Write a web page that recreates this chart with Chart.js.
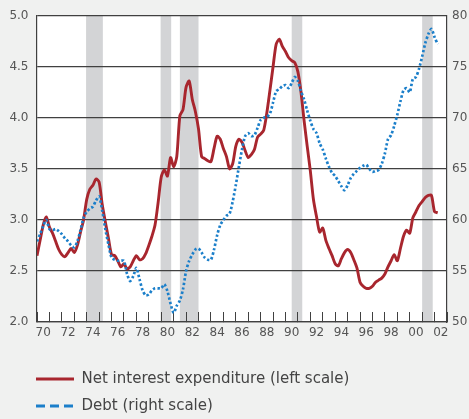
<!DOCTYPE html>
<html>
<head>
<meta charset="utf-8">
<script src="https://cdn.jsdelivr.net/npm/chart.js@4.4.1/dist/chart.umd.min.js"></script>
<style>
  html, body { margin: 0; padding: 0; background: #f0f1f0; }
  #wrap { width: 469px; height: 419px; }
</style>
</head>
<body>
<div id="wrap"><canvas id="myChart" width="469" height="419"></canvas></div>
<script>
// quarterly data, first point is 1970 Q1
const firstYear = 1970;

// net interest expenditure, % (left scale)
const interest = [
  2.65, 2.80, 2.95, 3.03, 2.93, 2.87, 2.79, 2.71, 2.66, 2.64, 2.68, 2.72, // 70-72
  2.68, 2.75, 2.88, 3.00, 3.20, 3.30, 3.34, 3.40, 3.37, 3.15, 2.98, 2.82, // 73-75
  2.66, 2.65, 2.60, 2.54, 2.57, 2.52, 2.54, 2.60, 2.65, 2.61, 2.62, 2.67, // 76-78
  2.75, 2.84, 2.95, 3.17, 3.42, 3.49, 3.43, 3.61, 3.52, 3.62, 4.02, 4.08, // 79-81
  4.30, 4.36, 4.18, 4.06, 3.89, 3.62, 3.60, 3.58, 3.57, 3.70, 3.82, 3.79, // 82-84
  3.70, 3.62, 3.50, 3.55, 3.72, 3.79, 3.76, 3.68, 3.61, 3.64, 3.69, 3.81, // 85-87
  3.84, 3.88, 4.05, 4.27, 4.50, 4.72, 4.77, 4.70, 4.65, 4.59, 4.56, 4.54, // 88-90
  4.45, 4.25, 3.97, 3.72, 3.48, 3.20, 3.03, 2.88, 2.92, 2.80, 2.72, 2.65, // 91-93
  2.57, 2.55, 2.62, 2.68, 2.71, 2.68, 2.61, 2.53, 2.39, 2.35, 2.33, 2.33, // 94-96
  2.35, 2.39, 2.41, 2.43, 2.47, 2.54, 2.60, 2.66, 2.60, 2.72, 2.84, 2.90, // 97-99
  2.87, 3.02, 3.08, 3.14, 3.18, 3.22, 3.24, 3.24, 3.08, 3.07              // 00-02
];

// debt, % (right scale)
const debt = [
  57.9, 58.6, 59.4, 60.0, 59.1, 59.0, 59.1, 58.9, 58.6, 58.2, 57.9, 57.5,
  57.3, 57.9, 59.0, 60.2, 60.8, 61.1, 61.3, 61.9, 62.3, 60.9, 59.1, 57.6,
  56.3, 56.1, 56.0, 56.0, 56.0, 54.7, 54.0, 54.5, 55.3, 54.2, 53.1, 52.6,
  52.7, 53.1, 53.3, 53.3, 53.3, 53.7, 53.0, 51.8, 50.9, 51.6, 52.1, 53.2,
  55.0, 56.0, 56.6, 57.1, 57.2, 56.8, 56.3, 56.1, 56.1, 57.1, 58.5, 59.5,
  60.0, 60.4, 60.6, 61.8, 63.4, 65.2, 66.9, 68.2, 68.5, 68.2, 68.3, 69.0,
  69.8, 70.0, 70.1, 70.4, 71.5, 72.6, 72.8, 73.1, 73.2, 72.9, 73.4, 74.0,
  73.6, 72.6, 71.8, 70.7, 69.7, 68.9, 68.5, 67.5, 66.9, 66.0, 65.2, 64.6,
  64.3, 63.8, 63.3, 62.9, 63.4, 64.1, 64.5, 64.8, 65.1, 65.3, 65.4, 65.0,
  64.7, 64.8, 64.9, 65.5, 66.5, 67.9, 68.3, 69.2, 70.3, 71.6, 72.7, 72.9,
  72.5, 73.8, 74.0, 74.8, 76.0, 77.3, 78.2, 78.7, 77.9, 77.2
];

// shaded recession periods (start, end) in years
const recessions = [
  [1973.95, 1975.3],
  [1979.95, 1980.8],
  [1981.5, 1983.0],
  [1990.5, 1991.35],
  [2001.0, 2001.85]
];

const quarterX = interest.map((v, i) => firstYear + i / 4);

const fontFamily = '"DejaVu Sans", sans-serif';
const textColor = '#555555';
const lineColor = '#404040';

const backdrop = {
  id: 'backdrop',
  afterLayout(chart) {
    // legend sits under the plot, lined up with the left axis
    if (chart.legend) chart.legend.left = chart.chartArea.left - 1 - chart.legend.options.labels.padding;
  },
  beforeDraw(chart) {
    const { ctx, chartArea: a, scales: { x } } = chart;
    ctx.save();
    ctx.fillStyle = '#f0f1f0';
    ctx.fillRect(0, 0, chart.width, chart.height);
    ctx.fillStyle = '#ffffff';
    ctx.fillRect(a.left, a.top, a.right - a.left, a.bottom - a.top);
    ctx.fillStyle = '#d3d4d6';
    recessions.forEach(([from, to]) => {
      const x1 = x.getPixelForValue(from);
      const x2 = x.getPixelForValue(to);
      ctx.fillRect(x1, a.top, x2 - x1, a.bottom - a.top);
    });
    ctx.restore();
  }
};

Chart.defaults.font.family = fontFamily;

const ctx = document.getElementById('myChart').getContext('2d');
new Chart(ctx, {
  type: 'line',
  data: {
    datasets: [
      {
        label: 'Net interest expenditure (left scale)',
        data: quarterX.map((q, i) => ({ x: q, y: interest[i] })),
        yAxisID: 'y',
        borderColor: '#a8262e',
        backgroundColor: '#a8262e',
        borderWidth: 2.9,
        pointRadius: 0,
        tension: 0.25,
        order: 1
      },
      {
        label: 'Debt (right scale)',
        data: quarterX.map((q, i) => ({ x: q, y: debt[i] })),
        yAxisID: 'y1',
        borderColor: '#1b7fca',
        backgroundColor: '#1b7fca',
        borderWidth: 2.7,
        borderDash: [2.4, 2.2],
        pointRadius: 0,
        tension: 0.25,
        order: 0
      }
    ]
  },
  options: {
    responsive: false,
    animation: false,
    layout: { padding: { left: 0, right: 0, top: 12, bottom: -4.5 } },
    scales: {
      x: {
        type: 'linear',
        min: 1970,
        max: 2003,
        grid: { display: true, drawOnChartArea: false, drawTicks: true, tickLength: -10, color: lineColor, lineWidth: 1 },
        border: { display: true, color: lineColor, width: 1.2 },
        ticks: {
          stepSize: 1,
          autoSkip: false,
          maxRotation: 0,
          padding: 14,
          labelOffset: 6.2,
          color: textColor,
          font: { size: 12 },
          callback: (v) => (v % 2 === 0 ? String(v).slice(2) : '')
        },
        afterFit: (scale) => { scale.height = 37.5; }
      },
      y: {
        position: 'left',
        min: 2,
        max: 5,
        grid: { drawTicks: false, color: lineColor, lineWidth: 1.2 },
        border: { display: true, color: lineColor, width: 1.2 },
        ticks: {
          stepSize: 0.5,
          padding: 8.5,
          color: textColor,
          font: { size: 12 },
          callback: (v) => v.toFixed(1)
        },
        afterFit: (scale) => { scale.width = 37; }
      },
      y1: {
        position: 'right',
        min: 50,
        max: 80,
        grid: { drawOnChartArea: false, drawTicks: false },
        border: { display: true, color: lineColor, width: 1.2 },
        ticks: { stepSize: 5, padding: 5, color: textColor, font: { size: 12 } },
        afterFit: (scale) => { scale.width = 22; }
      }
    },
    plugins: {
      tooltip: { enabled: false },
      legend: {
        position: 'bottom',
        align: 'start',
        labels: {
          usePointStyle: true,
          pointStyle: 'line',
          pointStyleWidth: 38,
          padding: 12,
          color: '#444444',
          font: { size: 15 },
          sort: (a, b) => a.datasetIndex - b.datasetIndex,
          generateLabels(chart) {
            const items = Chart.defaults.plugins.legend.labels.generateLabels(chart);
            items.forEach((it) => {
              it.lineWidth = 3;
              if (it.datasetIndex === 1) it.lineDash = [9, 5];
            });
            return items;
          }
        }
      }
    }
  },
  plugins: [backdrop]
});
</script>
</body>
</html>
